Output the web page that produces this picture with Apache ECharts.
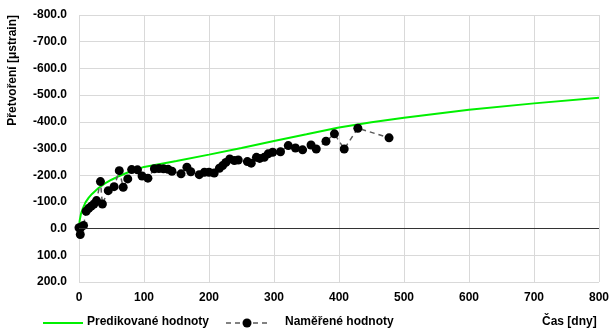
<!DOCTYPE html>
<html>
<head>
<meta charset="utf-8">
<script src="https://cdn.jsdelivr.net/npm/echarts@6/dist/echarts.min.js"></script>
<style>
  html, body { margin: 0; padding: 0; background: #fff; }
  #chart { width: 612px; height: 331px; }
</style>
</head>
<body>
<div id="chart"></div>
<script>
// predikovane hodnoty
let predDays   = [0, 1, 3, 6, 10, 15, 20, 30, 40, 50, 60, 75, 100, 150, 200, 250, 300, 350, 400, 450, 500, 600, 700, 800];
let predValues = [0, -30, -55, -76, -98, -116, -130, -152, -169, -183, -195, -210, -231, -253, -277, -302, -328, -353, -379, -398, -415, -445, -469, -490];

// namerene hodnoty
let measDays   = [0, 2, 3, 7, 11, 15, 19, 23, 27, 33, 36, 45, 54, 62, 68, 75, 81, 90, 97, 106,
                  116, 123, 130, 137, 143, 157, 166, 172, 185, 193, 200, 208, 216, 221, 226, 232, 239, 245,
                  259, 265, 273, 278, 285, 291, 298, 310, 322, 333, 344, 357, 365, 380, 393, 408, 429, 477];
let measValues = [-3, 22, -5, -12, -65, -76, -84, -92, -105, -176, -92, -142, -157, -217, -155, -186, -221, -220, -197, -189,
                  -224, -225, -224, -222, -215, -205, -230, -213, -202, -211, -211, -208, -226, -236, -248, -261, -255, -257,
                  -251, -245, -267, -263, -267, -280, -286, -288, -311, -302, -295, -313, -298, -327, -355, -298, -376, -340];

let xTicks = [0, 100, 200, 300, 400, 500, 600, 700, 800];
let seriesNames = ['Predikované hodnoty', 'Naměřené hodnoty'];

let font = 'Liberation Sans, Arial, sans-serif';
let green = '#00f000';
let dashGrey = '#595959';

function zip(a, b) {
    let r = [];
    for (let i = 0; i < a.length; i++) {
        r.push([a[i], b[i]]);
    }
    return r;
}

let chart = echarts.init(document.getElementById('chart'));
chart.setOption({
    animation: false,
    textStyle: { fontFamily: font },
    grid: { left: 79, right: 13, top: 15, bottom: 49 },
    xAxis: {
        type: 'value',
        min: 0,
        max: 800,
        interval: 100,
        axisLine: { show: false },
        axisTick: { show: false },
        axisLabel: {
            margin: 10,
            fontFamily: font, fontWeight: 'bold', fontSize: 12, color: '#000',
            formatter: function (v) { return xTicks.indexOf(v) >= 0 ? String(v) : ''; }
        },
        splitLine: { show: true, lineStyle: { color: '#d9d9d9', width: 1 } }
    },
    yAxis: {
        type: 'value',
        inverse: true,
        min: -800,
        max: 200,
        interval: 100,
        axisLine: { show: false },
        axisTick: { show: false },
        axisLabel: {
            margin: 12,
            fontFamily: font, fontWeight: 'bold', fontSize: 12, color: '#000',
            formatter: function (v) { return v.toFixed(1); }
        },
        splitLine: { show: true, lineStyle: { color: '#d9d9d9', width: 1 } }
    },
    graphic: [
        {
            type: 'text',
            left: 7,
            top: 15,
            rotation: Math.PI / 2,
            style: { text: 'Přetvoření [μstrain]', font: 'bold 12px ' + font, fill: '#000' }
        },
        {
            type: 'text',
            left: 542,
            top: 316,
            style: { text: 'Čas [dny]', font: 'bold 12px ' + font, fill: '#000' }
        },
        // legenda
        {
            type: 'line',
            shape: { x1: 43, y1: 323, x2: 83, y2: 323 },
            style: { stroke: green, lineWidth: 2 }
        },
        {
            type: 'text',
            left: 87,
            top: 316,
            style: { text: seriesNames[0], font: 'bold 12px ' + font, fill: '#000' }
        },
        {
            type: 'line',
            shape: { x1: 226, y1: 323, x2: 268, y2: 323 },
            style: { stroke: dashGrey, lineWidth: 1.5, lineDash: [5, 4] }
        },
        {
            type: 'circle',
            shape: { cx: 247, cy: 323, r: 4.5 },
            style: { fill: '#000' }
        },
        {
            type: 'text',
            left: 285,
            top: 316,
            style: { text: seriesNames[1], font: 'bold 12px ' + font, fill: '#000' }
        }
    ],
    series: [
        {
            name: seriesNames[0],
            type: 'line',
            smooth: false,
            symbol: 'none',
            z: 3,
            itemStyle: { color: green },
            lineStyle: { color: green, width: 2 },
            data: zip(predDays, predValues),
            markLine: {
                silent: true,
                symbol: 'none',
                label: { show: false },
                lineStyle: { color: '#333', width: 1, type: 'solid' },
                data: [{ yAxis: 0 }]
            }
        },
        {
            name: seriesNames[1],
            type: 'line',
            symbol: 'circle',
            symbolSize: 9,
            z: 4,
            itemStyle: { color: '#000' },
            lineStyle: { color: dashGrey, width: 1.5, type: [5, 4] },
            data: zip(measDays, measValues)
        }
    ]
});
</script>
</body>
</html>
